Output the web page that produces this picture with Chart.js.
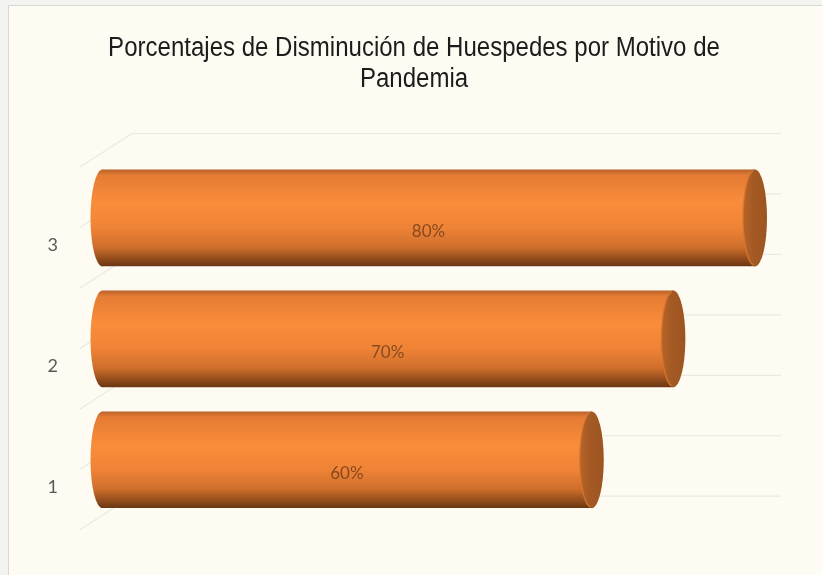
<!DOCTYPE html>
<html>
<head>
<meta charset="utf-8">
<title>Porcentajes de Disminución de Huespedes</title>
<script src="https://cdn.jsdelivr.net/npm/chart.js@4.4.0/dist/chart.umd.min.js"></script>
<style>
    html, body {
        margin: 0;
        padding: 0;
        background: #fefbf3;
    }

    #chartBox {
        width: 822px;
        height: 575px;
    }
</style>
</head>
<body>

<div id="chartBox">
    <canvas id="huespedesChart" width="822" height="575"></canvas>
</div>

<script>
// ======================================================
// Data
// ======================================================

const categories = ["1", "2", "3"];

const disminucion = [60, 70, 80];

const valueLabels = ["60%", "70%", "80%"];

const titleLines = [
    "Porcentajes de Disminución de Huespedes por Motivo de",
    "Pandemia"
];

// ======================================================
// Theme
// ======================================================

const creamBg = "#fefbf3";
const gridColor = "#ece9e1";
const capColor = "#a55a24";
const depthX = 26;
const depthY = 24;

// ======================================================
// Cylinder gradient (vertical, per bar)
// ======================================================

function cylinderGradient(ctx, top, bottom) {

    const g = ctx.createLinearGradient(0, top, 0, bottom);

    g.addColorStop(0.00, "#b8612a");
    g.addColorStop(0.06, "#e57c34");
    g.addColorStop(0.35, "#fa8d3b");
    g.addColorStop(0.60, "#ef8336");
    g.addColorStop(0.80, "#cf6f2c");
    g.addColorStop(0.93, "#8f4a1b");
    g.addColorStop(1.00, "#6a3612");

    return g;
}

function barFill(context) {

    const chart = context.chart;
    const yScale = chart.scales.y;

    if (!yScale || !chart.chartArea) return "#f28a3a";

    const center = yScale.getPixelForValue(context.dataIndex);
    const half = yScale.height / categories.length * 0.8 / 2;

    return cylinderGradient(chart.ctx, center - half, center + half);
}

// ======================================================
// Plugins
// ======================================================

const backgroundPlugin = {

    id: "backgroundPlugin",

    beforeDraw(chart) {

        const ctx = chart.ctx;

        ctx.save();
        ctx.fillStyle = "#f3f3f1";
        ctx.fillRect(0, 0, chart.width, chart.height);

        ctx.fillStyle = creamBg;
        ctx.fillRect(8, 5, chart.width, chart.height);

        ctx.strokeStyle = "#d6d6d2";
        ctx.lineWidth = 1;
        ctx.beginPath();
        ctx.moveTo(8.5, chart.height);
        ctx.lineTo(8.5, 5.5);
        ctx.lineTo(chart.width, 5.5);
        ctx.stroke();
        ctx.restore();
    }
};

// condensed title, like the narrow Arial of the original
const titlePlugin = {

    id: "titlePlugin",

    afterDraw(chart) {

        const ctx = chart.ctx;
        const centerX = 414;

        ctx.save();
        ctx.fillStyle = "#1c1c1c";
        ctx.font = "27px 'Liberation Sans', Arial, sans-serif";
        ctx.textAlign = "center";
        ctx.textBaseline = "alphabetic";

        titleLines.forEach((line, i) => {

            ctx.save();
            ctx.translate(centerX, 56 + i * 31);
            ctx.scale(0.89, 1);
            ctx.fillText(line, 0, 0);
            ctx.restore();
        });

        ctx.restore();
    }
};

const wallGridPlugin = {

    id: "wallGridPlugin",

    beforeDatasetsDraw(chart) {

        const ctx = chart.ctx;
        const yScale = chart.scales.y;
        const area = chart.chartArea;

        const backLeft = area.left + depthX + 4;
        const backRight = area.right + depthX;

        ctx.save();
        ctx.strokeStyle = gridColor;
        ctx.lineWidth = 1.2;

        for (let i = -0.5; i <= categories.length - 0.5; i += 0.5) {

            const y = yScale.getPixelForValue(i) - depthY;

            ctx.beginPath();
            ctx.moveTo(backLeft - 2 * depthX, y + 1.4 * depthY);
            ctx.lineTo(backLeft, y);
            ctx.lineTo(backRight, y);
            ctx.stroke();
        }

        ctx.restore();
    }
};

const cylinderPlugin = {

    id: "cylinderPlugin",

    afterDatasetsDraw(chart) {

        const ctx = chart.ctx;
        const meta = chart.getDatasetMeta(0);

        meta.data.forEach((bar, i) => {

            const top = bar.y - bar.height / 2;
            const bottom = bar.y + bar.height / 2;
            const rx = 12;
            const ry = bar.height / 2;

            ctx.save();

            // left rounded end
            ctx.fillStyle = cylinderGradient(ctx, top, bottom);
            ctx.beginPath();
            ctx.ellipse(bar.base + 0.5, bar.y, rx, ry, 0, Math.PI / 2, Math.PI * 1.5);
            ctx.closePath();
            ctx.fill();

            // right cap
            const capGrad = ctx.createLinearGradient(bar.x - rx, 0, bar.x + rx, 0);
            capGrad.addColorStop(0, "#b86428");
            capGrad.addColorStop(0.4, capColor);
            capGrad.addColorStop(1, "#9c5420");

            ctx.fillStyle = capGrad;
            ctx.beginPath();
            ctx.ellipse(bar.x, bar.y, rx, ry, 0, 0, Math.PI * 2);
            ctx.fill();

            ctx.strokeStyle = "rgba(214,120,50,0.8)";
            ctx.lineWidth = 1.5;
            ctx.beginPath();
            ctx.ellipse(bar.x, bar.y, rx, ry - 0.5, 0, Math.PI * 0.55, Math.PI * 1.45);
            ctx.stroke();

            // value label
            ctx.fillStyle = "rgba(110,60,25,0.8)";
            ctx.font = "17px Lato, 'Open Sans', sans-serif";
            ctx.textAlign = "center";
            ctx.textBaseline = "middle";
            ctx.fillText(valueLabels[i], (bar.base + bar.x) / 2, bar.y + 14);

            ctx.restore();
        });
    }
};

// ======================================================
// Chart
// ======================================================

const huespedesChart = new Chart(
    document.getElementById("huespedesChart"),
    {
        type: "bar",

        data: {
            labels: categories,
            datasets: [{
                data: disminucion,
                backgroundColor: barFill,
                borderWidth: 0,
                barPercentage: 0.8,
                categoryPercentage: 1,
                clip: false
            }]
        },

        options: {

            indexAxis: "y",

            responsive: false,

            animation: false,

            layout: {
                padding: {
                    left: 0,
                    top: 157.5,
                    right: 67,
                    bottom: 48.5
                }
            },

            plugins: {

                legend: {
                    display: false
                },

                tooltip: {
                    enabled: false
                },

                title: {
                    display: false
                }
            },

            scales: {

                x: {
                    display: false,
                    min: 0,
                    max: 80
                },

                y: {
                    reverse: true,

                    afterFit(scale) {
                        scale.width = 102;
                    },

                    grid: {
                        display: false,
                        drawTicks: false
                    },

                    border: {
                        display: false
                    },

                    ticks: {
                        color: "#595959",
                        padding: 44,
                        labelOffset: 27,
                        font: {
                            family: "Lato, 'Open Sans', sans-serif",
                            size: 18
                        }
                    }
                }
            }
        },

        plugins: [backgroundPlugin, wallGridPlugin, cylinderPlugin, titlePlugin]
    }
);
</script>
</body>
</html>
